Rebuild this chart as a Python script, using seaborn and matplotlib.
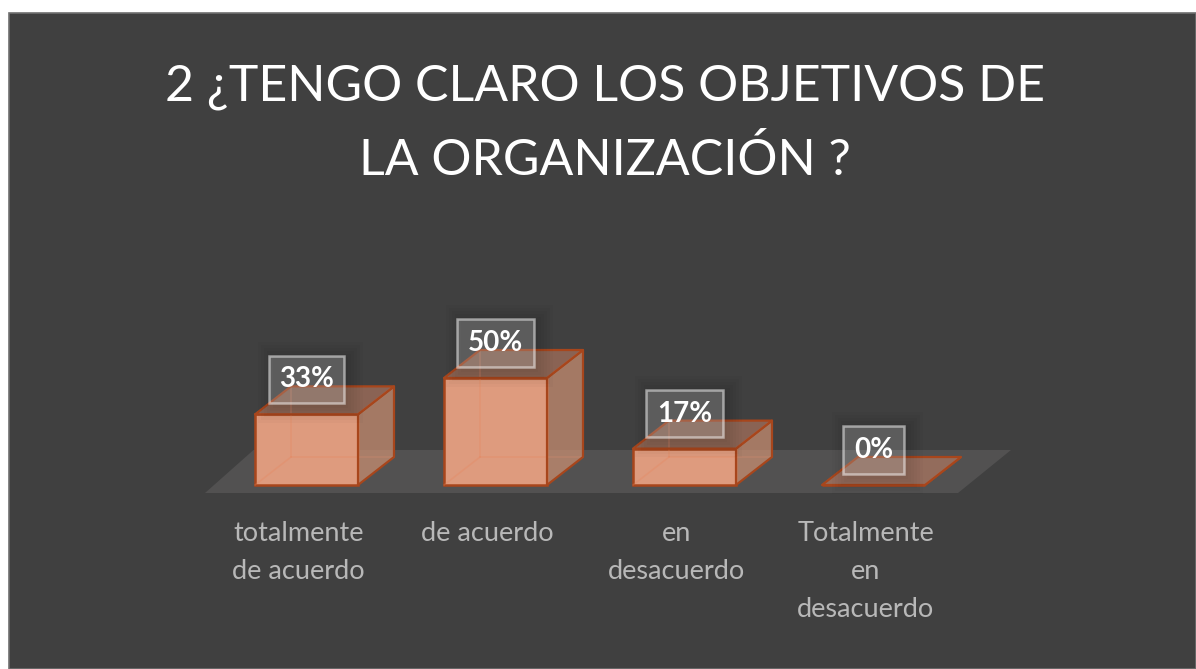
import matplotlib
matplotlib.use("Agg")
import matplotlib.pyplot as plt
from matplotlib.patches import Polygon, Rectangle
from matplotlib.transforms import ScaledTranslation, IdentityTransform
import seaborn as sns

categories = ["totalmente\nde acuerdo", "de acuerdo", "en\ndesacuerdo", "Totalmente\nen\ndesacuerdo"]
values = [33, 50, 17, 0]
value_labels = ["33%", "50%", "17%", "0%"]
title = "2 ¿TENGO CLARO LOS OBJETIVOS DE\nLA ORGANIZACIÓN ?"

W, H = 1196, 669
BG = "#404040"
EDGE = "#A8461C"
FRONT = "#DE9B7E"
SIDE = (204/255, 144/255, 115/255, 0.72)
TOP = (208/255, 133/255, 104/255, 0.52)

sns.set_style("dark")
plt.rcParams['font.family'] = ['Lato', 'DejaVu Sans']

fig = plt.figure(figsize=(W/100, H/100), dpi=100, facecolor="white")

# dark panel, white strip left and on top
fig.patches.append(Rectangle((9/W, 0), (W-9)/W, (H-13)/H, transform=fig.transFigure,
                             facecolor=BG, edgecolor="#707070", linewidth=1.2, zorder=-1))

# axes bottom sits on the bar baseline, one category = 189 px, 1% = 2.14 px
left, base = 212, 485
ax = fig.add_axes([left/W, (H-base)/H, 756/W, 150/H])
ax.set_facecolor("none")

sns.barplot(x=categories, y=values, color=FRONT, saturation=1, width=103/189,
            edgecolor=EDGE, linewidth=1.8, ax=ax, zorder=2)
ax.set_xlim(-0.5, 3.5)
ax.set_ylim(0, 150/2.14)

px_x, px_y = 1/189, 1/2.14
dx, dy = 36*px_x, 28*px_y

# floor
floor = Polygon([(-103*px_x*0.5-50*px_x, -8*px_y), (3+84.5*px_x, -8*px_y),
                 (3+137.5*px_x, 35*px_y), (-53*px_x, 35*px_y)],
                facecolor="#525151", edgecolor="none", zorder=0.5, clip_on=False)
ax.add_patch(floor)

# depth of each box comes from the bar that seaborn drew
for bar in list(ax.patches):
    if bar is floor:
        continue
    x0, w, h = bar.get_x(), bar.get_width(), bar.get_height()
    x1 = x0 + w
    bar.set_clip_on(False)
    # inner edges, only faint
    for xs, ys in [([x0, x0+dx], [0, dy]), ([x0+dx, x0+dx], [dy, h+dy]), ([x0+dx, x1+dx], [dy, dy])]:
        ax.plot(xs, ys, color="#E8845C", lw=1.2, alpha=0.3, zorder=2.2, clip_on=False)
    ax.add_patch(Polygon([(x1, 0), (x1+dx, dy), (x1+dx, h+dy), (x1, h)], facecolor=SIDE,
                         edgecolor=EDGE, linewidth=1.6, zorder=2.5, clip_on=False, joinstyle="round"))
    ax.add_patch(Polygon([(x0, h), (x1, h), (x1+dx, h+dy), (x0+dx, h+dy)], facecolor=TOP,
                         edgecolor=EDGE, linewidth=1.6, zorder=2.5, clip_on=False, joinstyle="round"))

# value labels in see through boxes
boxes = []
for i, (v, s) in enumerate(zip(values, value_labels)):
    t = ax.annotate(s, xy=(i, v), xytext=(0, 35*0.72), textcoords="offset points",
                    ha="center", va="center", color="white", fontsize=20, fontweight="bold",
                    zorder=5, annotation_clip=False,
                    bbox=dict(boxstyle="square,pad=0.38", facecolor=(1, 1, 1, 0.2),
                              edgecolor=(1, 1, 1, 0.5), linewidth=1.8))
    boxes.append(t)

# soft shadow around the boxes, a bit to the right
fig.canvas.draw()
rend = fig.canvas.get_renderer()
for t in boxes:
    bb = t.get_bbox_patch().get_window_extent(rend)
    for grow in range(2, 20, 3):
        ax.add_patch(Rectangle((bb.x0-grow+6, bb.y0-grow-3), bb.width+2*grow-4, bb.height+2*grow,
                               transform=IdentityTransform(), facecolor="black", alpha=0.018,
                               edgecolor="none", zorder=4, clip_on=False))

# tick labels
ax.set_yticks([])
ax.tick_params(axis="x", length=0, pad=26, labelsize=19.5, labelcolor="#B8B8B8")
shift = ScaledTranslation(-8/100, 0, fig.dpi_scale_trans)
for lab in ax.get_xticklabels():
    lab.set_linespacing(1.65)
    lab.set_transform(lab.get_transform() + shift)
ax.set_xlabel("")
ax.set_ylabel("")
sns.despine(ax=ax, left=True, bottom=True)
ax.grid(False)

fig.text(605/W, 1-124/H, title, ha="center", va="center", color="white", fontsize=36,
         fontweight="normal", linespacing=1.70)

fig.savefig("out.png", dpi=100, facecolor="white")
plt.close(fig)
